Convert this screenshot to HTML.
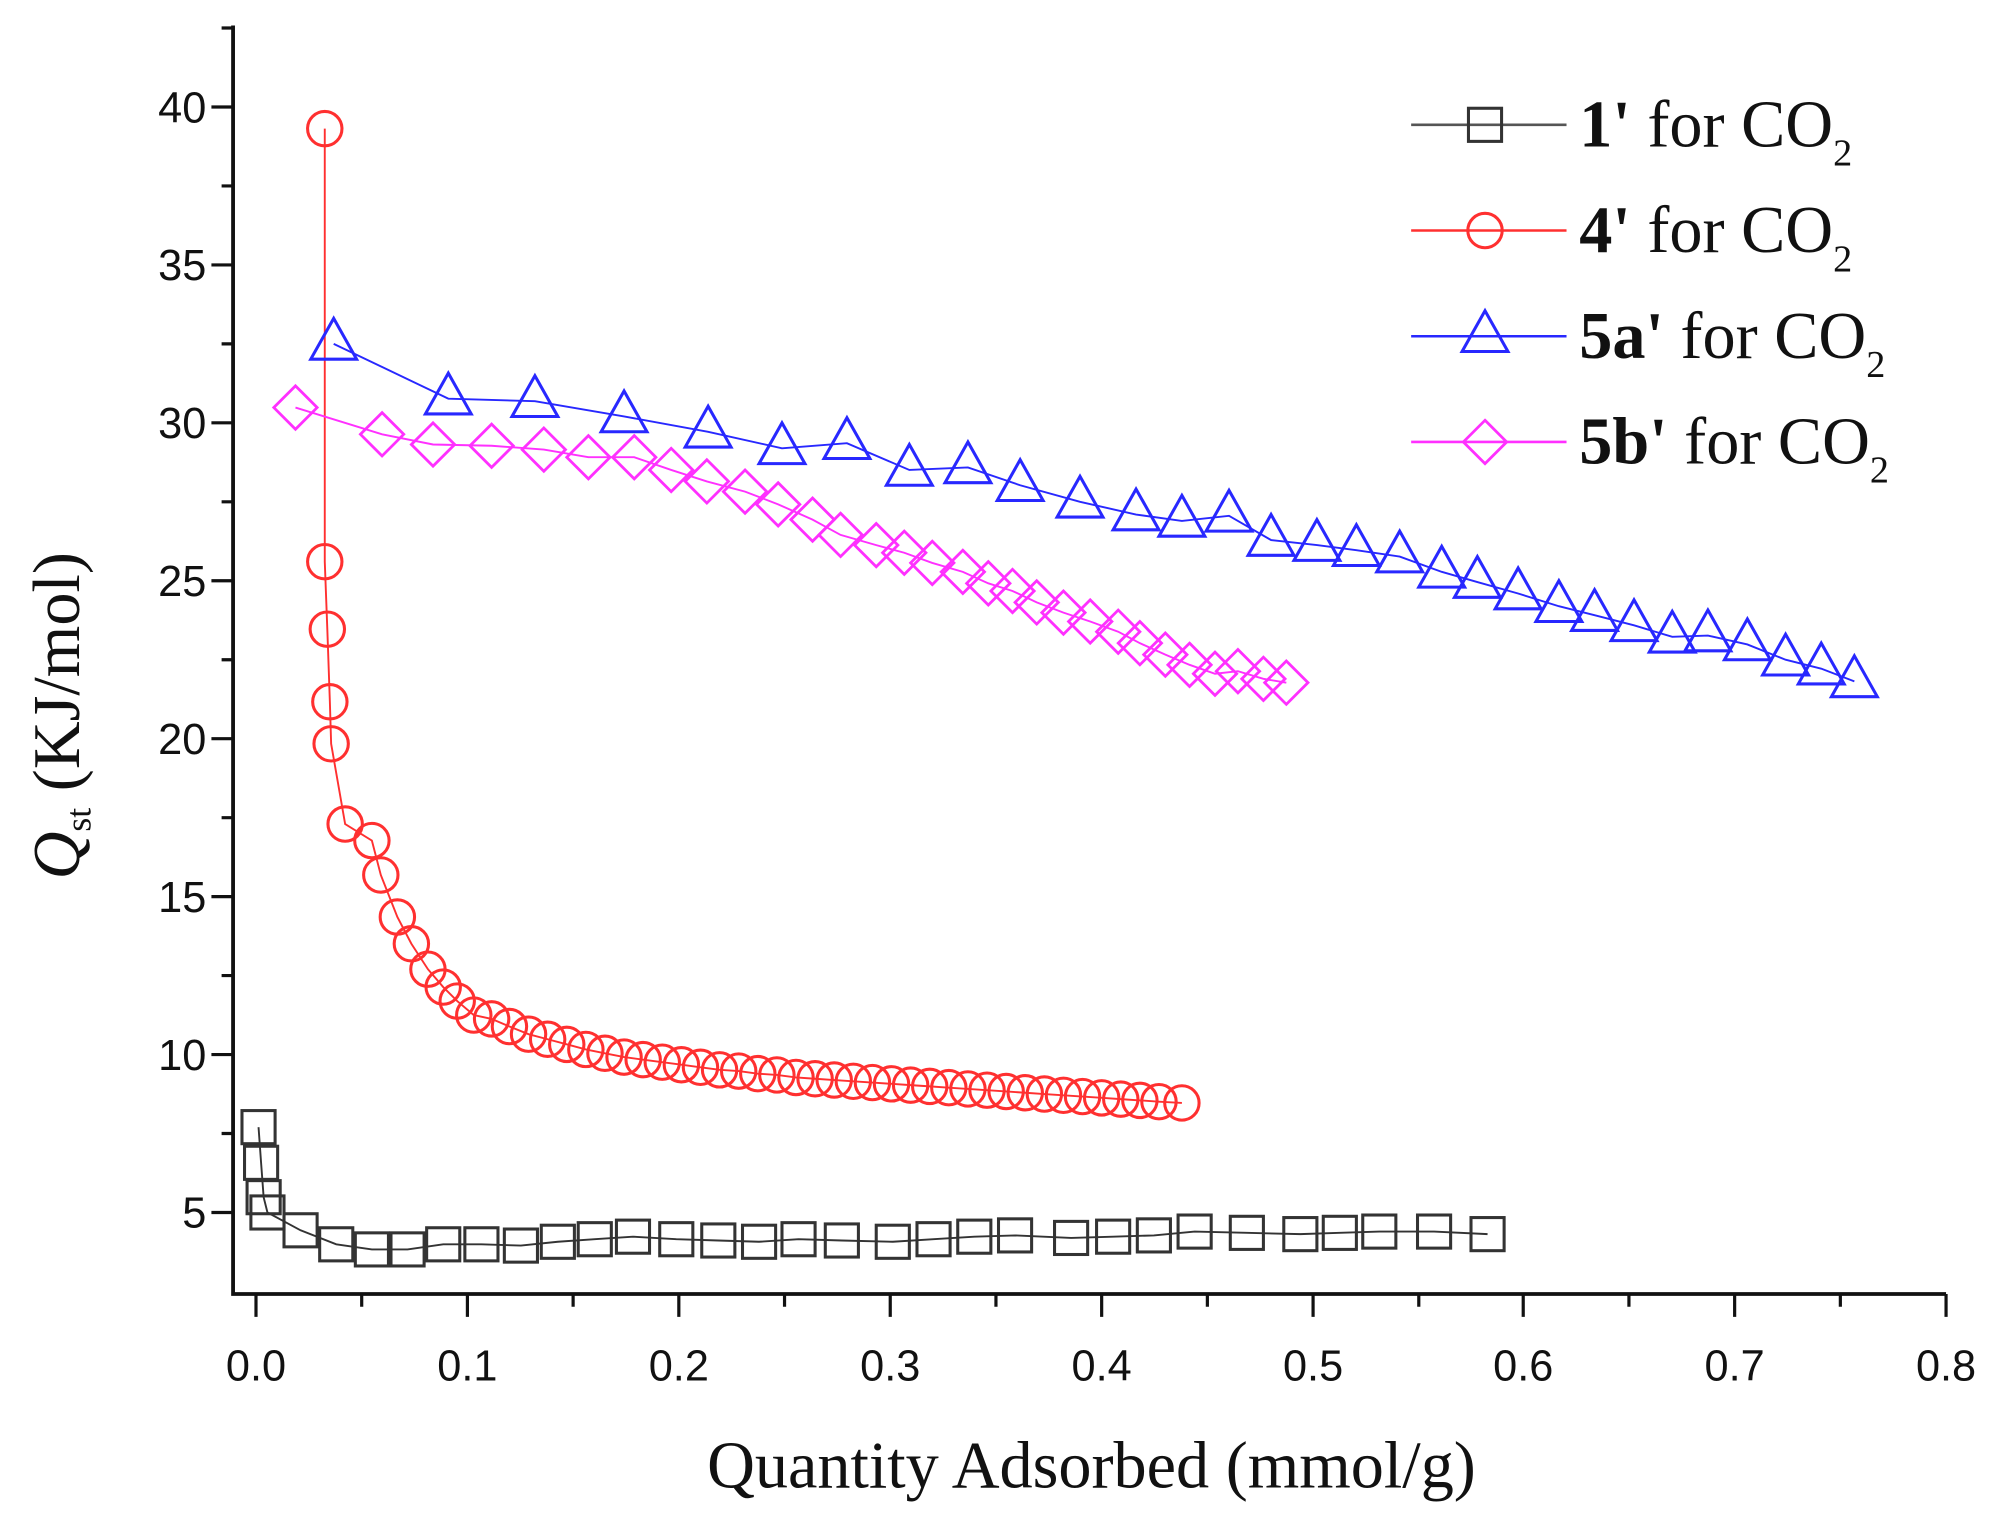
<!DOCTYPE html>
<html><head><meta charset="utf-8"><style>html,body{margin:0;padding:0;background:#fff}svg{display:block}</style></head>
<body>
<svg width="1997" height="1524" viewBox="0 0 1568 1196.6" xmlns="http://www.w3.org/2000/svg">
<defs>
<rect id="sq" x="-13" y="-13" width="26" height="26" fill="none" stroke="#333" stroke-width="2.4"/>
<circle id="ci" r="13.5" fill="none" stroke="#ff3030" stroke-width="2.4"/>
<path id="tr" d="M0,-20 L18,12 L-18,12 Z" fill="none" stroke="#2828ff" stroke-width="2.4"/>
<path id="di" d="M0,-17 L17,0 L0,17 L-17,0 Z" fill="none" stroke="#ff30ff" stroke-width="2.2"/>
</defs>
<g stroke="#111" stroke-width="3" fill="none">
<path d="M183,20 V1016 H1528"/>
</g>
<g stroke="#111" stroke-width="2.5">
<path d="M166,952H183M166,828H183M166,704H183M166,580H183M166,456H183M166,332H183M166,208H183M166,84H183"/>
<path d="M174,890H183M174,766H183M174,642H183M174,518H183M174,394H183M174,270H183M174,146H183M174,22H183"/>
<path d="M201,1016V1034M367,1016V1034M533,1016V1034M699,1016V1034M865,1016V1034M1031,1016V1034M1196,1016V1034M1362,1016V1034M1528,1016V1034"/>
<path d="M284,1016V1026M450,1016V1026M616,1016V1026M782,1016V1026M948,1016V1026M1114,1016V1026M1279,1016V1026M1445,1016V1026"/>
</g>
<g font-family="Liberation Sans, sans-serif" font-size="34" fill="#111" text-anchor="end">
<text x="162" y="964">5</text><text x="162" y="840">10</text><text x="162" y="716">15</text><text x="162" y="592">20</text>
<text x="162" y="468">25</text><text x="162" y="344">30</text><text x="162" y="220">35</text><text x="162" y="96">40</text>
</g>
<g font-family="Liberation Sans, sans-serif" font-size="34" fill="#111" text-anchor="middle">
<text x="201" y="1084">0.0</text><text x="367" y="1084">0.1</text><text x="533" y="1084">0.2</text><text x="699" y="1084">0.3</text>
<text x="865" y="1084">0.4</text><text x="1031" y="1084">0.5</text><text x="1196" y="1084">0.6</text><text x="1362" y="1084">0.7</text><text x="1528" y="1084">0.8</text>
</g>
<text x="857" y="1168" font-family="Liberation Serif, serif" font-size="52" fill="#111" text-anchor="middle">Quantity Adsorbed (mmol/g)</text>
<text transform="translate(62,562) rotate(-90)" font-family="Liberation Serif, serif" font-size="52" fill="#111" text-anchor="middle"><tspan font-style="italic">Q</tspan><tspan font-size="28" dy="9">st</tspan><tspan dy="-9"> (KJ/mol)</tspan></text>

<polyline fill="none" stroke="#333" stroke-width="1.5" points="203,885 205,913 207,940 210,952 236,966 264,977 292,981 320,981 348,977 378,977 409,978 438,975 467,973 497,971 531,973 564,974 596,975 627,973 661,974 701,975 733,973 765,971 797,970 841,972 874,971 906,970 938,967 979,968 1021,969 1052,968 1083,967 1126,967 1168,969"/>
<g>
<use href="#sq" x="203" y="885"/><use href="#sq" x="205" y="913"/><use href="#sq" x="207" y="940"/><use href="#sq" x="210" y="952"/><use href="#sq" x="236" y="966"/><use href="#sq" x="264" y="977"/><use href="#sq" x="292" y="981"/><use href="#sq" x="320" y="981"/><use href="#sq" x="348" y="977"/><use href="#sq" x="378" y="977"/><use href="#sq" x="409" y="978"/><use href="#sq" x="438" y="975"/><use href="#sq" x="467" y="973"/><use href="#sq" x="497" y="971"/><use href="#sq" x="531" y="973"/><use href="#sq" x="564" y="974"/><use href="#sq" x="596" y="975"/><use href="#sq" x="627" y="973"/><use href="#sq" x="661" y="974"/><use href="#sq" x="701" y="975"/><use href="#sq" x="733" y="973"/><use href="#sq" x="765" y="971"/><use href="#sq" x="797" y="970"/><use href="#sq" x="841" y="972"/><use href="#sq" x="874" y="971"/><use href="#sq" x="906" y="970"/><use href="#sq" x="938" y="967"/><use href="#sq" x="979" y="968"/><use href="#sq" x="1021" y="969"/><use href="#sq" x="1052" y="968"/><use href="#sq" x="1083" y="967"/><use href="#sq" x="1126" y="967"/><use href="#sq" x="1168" y="969"/>
</g>

<polyline fill="none" stroke="#ff3030" stroke-width="1.5" points="255,101 255,441 257,494 259,551 260,584 271,647 292,660 299,687 312,720 323,741 336,761 348,775 359,786 372,797 386,800 400,806 415,812 430,816 445,820 460,824 475,827 490,830 505,832 520,834 535,836 550,838 565,840 580,841 595,843 610,844 625,846 640,847 655,848 670,849 685,850 700,851 715,852 730,853 745,854 760,855 775,856 790,857 805,858 820,859 835,860 850,861 865,862 880,863 895,864 910,865 928,866"/>
<g>
<use href="#ci" x="255" y="101"/><use href="#ci" x="255" y="441"/><use href="#ci" x="257" y="494"/><use href="#ci" x="259" y="551"/><use href="#ci" x="260" y="584"/><use href="#ci" x="271" y="647"/><use href="#ci" x="292" y="660"/><use href="#ci" x="299" y="687"/><use href="#ci" x="312" y="720"/><use href="#ci" x="323" y="741"/><use href="#ci" x="336" y="761"/><use href="#ci" x="348" y="775"/><use href="#ci" x="359" y="786"/><use href="#ci" x="372" y="797"/><use href="#ci" x="386" y="800"/><use href="#ci" x="400" y="806"/><use href="#ci" x="415" y="812"/><use href="#ci" x="430" y="816"/><use href="#ci" x="445" y="820"/><use href="#ci" x="460" y="824"/><use href="#ci" x="475" y="827"/><use href="#ci" x="490" y="830"/><use href="#ci" x="505" y="832"/><use href="#ci" x="520" y="834"/><use href="#ci" x="535" y="836"/><use href="#ci" x="550" y="838"/><use href="#ci" x="565" y="840"/><use href="#ci" x="580" y="841"/><use href="#ci" x="595" y="843"/><use href="#ci" x="610" y="844"/><use href="#ci" x="625" y="846"/><use href="#ci" x="640" y="847"/><use href="#ci" x="655" y="848"/><use href="#ci" x="670" y="849"/><use href="#ci" x="685" y="850"/><use href="#ci" x="700" y="851"/><use href="#ci" x="715" y="852"/><use href="#ci" x="730" y="853"/><use href="#ci" x="745" y="854"/><use href="#ci" x="760" y="855"/><use href="#ci" x="775" y="856"/><use href="#ci" x="790" y="857"/><use href="#ci" x="805" y="858"/><use href="#ci" x="820" y="859"/><use href="#ci" x="835" y="860"/><use href="#ci" x="850" y="861"/><use href="#ci" x="865" y="862"/><use href="#ci" x="880" y="863"/><use href="#ci" x="895" y="864"/><use href="#ci" x="910" y="865"/><use href="#ci" x="928" y="866"/>
</g>

<polyline fill="none" stroke="#2828ff" stroke-width="1.5" points="262,270 352,313 420,315 490,327 556,339 614,352 665,348 714,369 760,367 801,381 848,394 892,404 928,409 965,405 998,424 1034,428 1065,432 1099,437 1132,449 1160,457 1192,466 1224,476 1252,483 1283,491 1313,500 1341,499 1372,506 1402,518 1430,525 1456,535"/>
<g>
<use href="#tr" x="262" y="270"/><use href="#tr" x="352" y="313"/><use href="#tr" x="420" y="315"/><use href="#tr" x="490" y="327"/><use href="#tr" x="556" y="339"/><use href="#tr" x="614" y="352"/><use href="#tr" x="665" y="348"/><use href="#tr" x="714" y="369"/><use href="#tr" x="760" y="367"/><use href="#tr" x="801" y="381"/><use href="#tr" x="848" y="394"/><use href="#tr" x="892" y="404"/><use href="#tr" x="928" y="409"/><use href="#tr" x="965" y="405"/><use href="#tr" x="998" y="424"/><use href="#tr" x="1034" y="428"/><use href="#tr" x="1065" y="432"/><use href="#tr" x="1099" y="437"/><use href="#tr" x="1132" y="449"/><use href="#tr" x="1160" y="457"/><use href="#tr" x="1192" y="466"/><use href="#tr" x="1224" y="476"/><use href="#tr" x="1252" y="483"/><use href="#tr" x="1283" y="491"/><use href="#tr" x="1313" y="500"/><use href="#tr" x="1341" y="499"/><use href="#tr" x="1372" y="506"/><use href="#tr" x="1402" y="518"/><use href="#tr" x="1430" y="525"/><use href="#tr" x="1456" y="535"/>
</g>

<polyline fill="none" stroke="#ff30ff" stroke-width="1.5" points="232,320 300,341 340,349 386,350 427,353 462,359 498,359 527,369 555,378 585,386 611,396 638,408 660,420 688,428 710,434 732,442 756,449 776,458 795,464 814,473 835,481 856,488 878,496 895,505 915,514 934,522 954,529 972,527 992,533 1010,536"/>
<g>
<use href="#di" x="232" y="320"/><use href="#di" x="300" y="341"/><use href="#di" x="340" y="349"/><use href="#di" x="386" y="350"/><use href="#di" x="427" y="353"/><use href="#di" x="462" y="359"/><use href="#di" x="498" y="359"/><use href="#di" x="527" y="369"/><use href="#di" x="555" y="378"/><use href="#di" x="585" y="386"/><use href="#di" x="611" y="396"/><use href="#di" x="638" y="408"/><use href="#di" x="660" y="420"/><use href="#di" x="688" y="428"/><use href="#di" x="710" y="434"/><use href="#di" x="732" y="442"/><use href="#di" x="756" y="449"/><use href="#di" x="776" y="458"/><use href="#di" x="795" y="464"/><use href="#di" x="814" y="473"/><use href="#di" x="835" y="481"/><use href="#di" x="856" y="488"/><use href="#di" x="878" y="496"/><use href="#di" x="895" y="505"/><use href="#di" x="915" y="514"/><use href="#di" x="934" y="522"/><use href="#di" x="954" y="529"/><use href="#di" x="972" y="527"/><use href="#di" x="992" y="533"/><use href="#di" x="1010" y="536"/>
</g>

<g stroke-width="2">
<path d="M1108,98H1230" stroke="#555"/><use href="#sq" x="1166" y="98"/>
<path d="M1108,181H1230" stroke="#ff3030"/><use href="#ci" x="1166" y="181"/>
<path d="M1108,264H1230" stroke="#2828ff"/><use href="#tr" x="1166" y="264"/>
<path d="M1108,347H1230" stroke="#ff30ff"/><use href="#di" x="1166" y="347"/>
</g>
<g font-family="Liberation Serif, serif" font-size="52" fill="#111">
<text x="1240" y="115"><tspan font-weight="bold">1'</tspan> for CO<tspan font-size="30" dy="15">2</tspan></text>
<text x="1240" y="198"><tspan font-weight="bold">4'</tspan> for CO<tspan font-size="30" dy="15">2</tspan></text>
<text x="1240" y="281"><tspan font-weight="bold">5a'</tspan> for CO<tspan font-size="30" dy="15">2</tspan></text>
<text x="1240" y="364"><tspan font-weight="bold">5b'</tspan> for CO<tspan font-size="30" dy="15">2</tspan></text>
</g>
</svg>
</body></html>
